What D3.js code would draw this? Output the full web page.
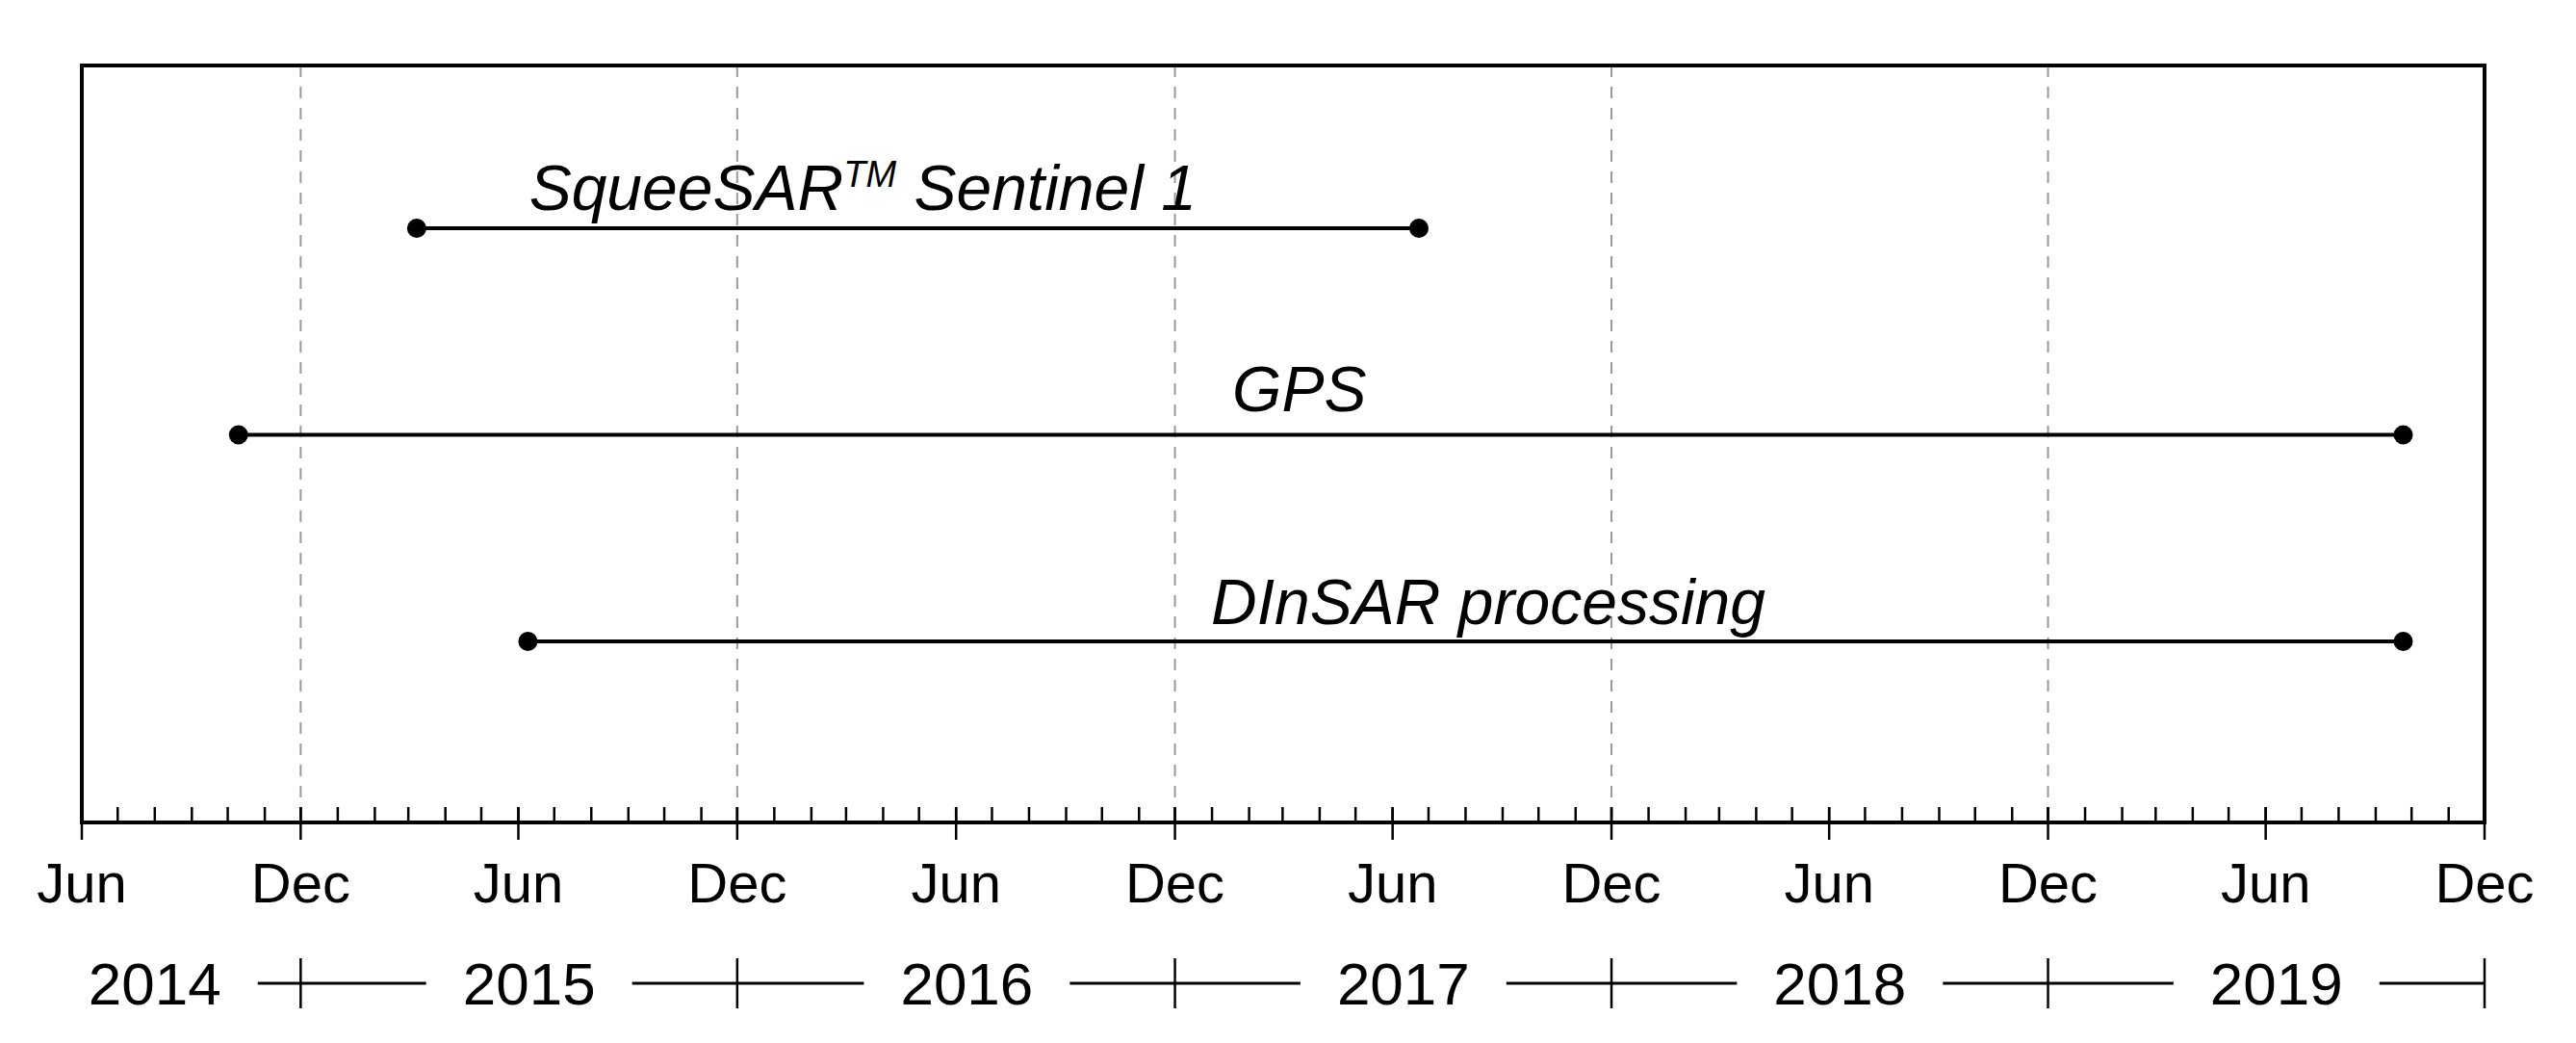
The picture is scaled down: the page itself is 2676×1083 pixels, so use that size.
<!DOCTYPE html><html><head><meta charset="utf-8">
<script src="https://cdn.jsdelivr.net/npm/d3@7"></script>
<style>body{margin:0;background:#fff}text{font-family:"Liberation Sans Narrow","Liberation Sans",Arial,sans-serif}</style></head><body>
<svg id="c" width="2676" height="1083"></svg>
<script>
const names = ["SqueeSAR Sentinel 1","GPS","DInSAR processing"];
const starts = ["2015-03-08","2014-10-10","2015-06-09"];
const ends = ["2017-06-23","2019-09-24","2019-09-24"];
const labelCenters = ["2016-03-15","2017-03-15","2017-08-20"];
const monthTicks = ["2014-06-01","2014-12-01","2015-06-01","2015-12-01","2016-06-01","2016-12-01","2017-06-01","2017-12-01","2018-06-01","2018-12-01","2019-06-01","2019-12-01"];
const monthLabels = ["Jun","Dec","Jun","Dec","Jun","Dec","Jun","Dec","Jun","Dec","Jun","Dec"];
const years = ["2014","2015","2016","2017","2018","2019"];
const yearLabelDates = ["2014-08-01","2015-06-10","2016-06-10","2017-06-10","2018-06-10","2019-06-10"];

const P = d3.timeParse("%Y-%m-%d");
const svg = d3.select("#c");
const L=85,R=2581,T=68,B=854;
const x = d3.scaleTime().domain([P("2014-06-01"),P("2019-12-01")]).range([L,R]);
const y = d3.scalePoint().domain(names).range([237,666]);
const yl = {"SqueeSAR Sentinel 1":218,"GPS":427,"DInSAR processing":648};

svg.selectAll(".g").data(monthTicks.filter((d,i)=>monthLabels[i]=="Dec").slice(0,-1)).join("line")
 .attr("x1",d=>x(P(d))).attr("x2",d=>x(P(d))).attr("y1",T).attr("y2",B)
 .attr("stroke","#999").attr("stroke-width",2).attr("stroke-dasharray","12,10");
svg.append("rect").attr("x",L).attr("y",T).attr("width",R-L).attr("height",B-T).attr("fill","none").attr("stroke","#000").attr("stroke-width",4);
const months = d3.timeMonth.range(P("2014-06-01"),P("2019-12-02"));
svg.selectAll(".mt").data(months).join("line").attr("x1",d=>x(d)).attr("x2",d=>x(d)).attr("y1",B).attr("y2",B-16).attr("stroke","#000").attr("stroke-width",2.5);
svg.selectAll(".Mt").data(monthTicks).join("line").attr("x1",d=>x(P(d))).attr("x2",d=>x(P(d))).attr("y1",B-16).attr("y2",B+18).attr("stroke","#000").attr("stroke-width",2.5);
svg.selectAll(".ml").data(monthTicks).join("text").attr("x",d=>x(P(d))).attr("y",937).attr("text-anchor","middle").attr("font-size",58).text((d,i)=>monthLabels[i]);
const yt = svg.selectAll(".yl").data(years).join("text").attr("x",(d,i)=>x(P(yearLabelDates[i]))).attr("y",1043).attr("text-anchor","middle").attr("font-size",62).text(d=>d);
const boxes=[]; yt.each(function(){boxes.push(this.getBBox());});
const ly=1021;
for(let i=0;i<years.length;i++){
  const a=boxes[i].x+boxes[i].width+38;
  const b= i<years.length-1 ? boxes[i+1].x-38 : R;
  svg.append("line").attr("x1",a).attr("x2",b).attr("y1",ly).attr("y2",ly).attr("stroke","#000").attr("stroke-width",3);
}
svg.selectAll(".yc").data(monthTicks.filter((d,i)=>monthLabels[i]=="Dec")).join("line").attr("x1",d=>x(P(d))).attr("x2",d=>x(P(d))).attr("y1",ly-26).attr("y2",ly+26).attr("stroke","#000").attr("stroke-width",2.5);
names.forEach((n,i)=>{
  svg.append("line").attr("x1",x(P(starts[i]))).attr("x2",x(P(ends[i]))).attr("y1",y(n)).attr("y2",y(n)).attr("stroke","#000").attr("stroke-width",4);
  [starts[i],ends[i]].forEach(d=>svg.append("circle").attr("cx",x(P(d))).attr("cy",y(n)).attr("r",10).attr("fill","#000"));
  const t=svg.append("text").attr("x",x(P(labelCenters[i]))).attr("y",yl[n]).attr("text-anchor","middle").attr("font-size",66).attr("font-style","italic");
  if(i==0){t.append("tspan").text("SqueeSAR");t.append("tspan").attr("font-size",38).attr("dy",-24).text("TM");t.append("tspan").attr("dy",24).text(" Sentinel 1");}
  else t.text(n);
});
</script></body></html>
